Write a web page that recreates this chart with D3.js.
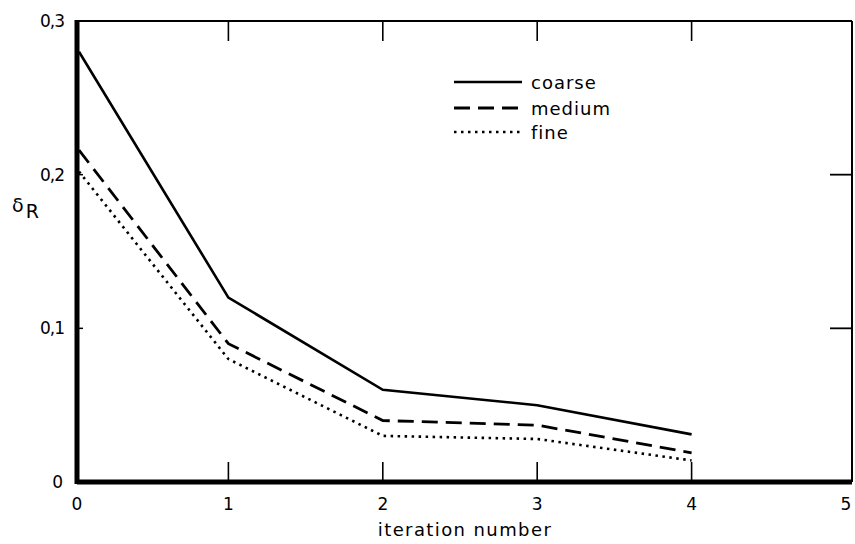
<!DOCTYPE html>
<html lang="en">
<head>
<meta charset="utf-8">
<script src="https://d3js.org/d3.v7.min.js"></script>
<style>
  body { margin: 0; background: #fff; }
  text { font-family: "DejaVu Sans", sans-serif; fill: #000; }
</style>
</head>
<body>
<script>
  var width = 855,
      height = 544;

  // data
  var iterations = [0, 1, 2, 3, 4];
  var coarse = [0.28, 0.12, 0.06, 0.05, 0.031];
  var medium = [0.216, 0.09, 0.04, 0.037, 0.019];
  var fine = [0.202, 0.08, 0.03, 0.028, 0.014];
  var xTicks = [0, 1, 2, 3, 4, 5];
  var yTicks = [0, 0.1, 0.2, 0.3];
  var yTickLabels = ['0', '0,1', '0,2', '0,3'];
  var seriesNames = ['coarse', 'medium', 'fine'];

  // frame edges (the frame runs a little past x = 5 on the right)
  var frameLeft = 77, frameRight = 852, frameTop = 21, frameBottom = 482;

  var svg = d3.select('body')
    .append('svg')
    .attr('width', width)
    .attr('height', height);

  var x = d3.scaleLinear().domain([0, 5]).range([74, 846]);
  var y = d3.scaleLinear().domain([0, 0.3]).range([frameBottom, frameTop]);

  // frame: thin top / right, heavy left / bottom
  svg.append('line').attr('x1', frameLeft).attr('x2', frameRight).attr('y1', frameTop).attr('y2', frameTop)
    .attr('stroke', '#000').attr('stroke-width', 2);
  svg.append('line').attr('x1', frameRight).attr('x2', frameRight).attr('y1', frameTop).attr('y2', frameBottom)
    .attr('stroke', '#000').attr('stroke-width', 2);

  // inward ticks
  var tickLen = 20;
  var inner = xTicks.filter(function(d) { return d > 0 && d < 5; });
  svg.selectAll('.tb').data(inner).join('line')
    .attr('x1', function(d) { return x(d); }).attr('x2', function(d) { return x(d); })
    .attr('y1', frameBottom).attr('y2', frameBottom - tickLen)
    .attr('stroke', '#000').attr('stroke-width', 1.6);
  svg.selectAll('.tt').data(inner).join('line')
    .attr('x1', function(d) { return x(d); }).attr('x2', function(d) { return x(d); })
    .attr('y1', frameTop).attr('y2', frameTop + tickLen)
    .attr('stroke', '#000').attr('stroke-width', 1.6);
  var innerY = yTicks.filter(function(d) { return d > 0 && d < 0.3; });
  svg.selectAll('.tr').data(innerY).join('line')
    .attr('x1', frameRight).attr('x2', frameRight - 22)
    .attr('y1', function(d) { return y(d); }).attr('y2', function(d) { return y(d); })
    .attr('stroke', '#000').attr('stroke-width', 1.8);
  svg.selectAll('.tl').data(innerY).join('line')
    .attr('x1', frameLeft).attr('x2', frameLeft + 6)
    .attr('y1', function(d) { return y(d); }).attr('y2', function(d) { return y(d); })
    .attr('stroke', '#000').attr('stroke-width', 1.5);

  svg.append('line').attr('x1', frameLeft).attr('x2', frameRight).attr('y1', frameBottom).attr('y2', frameBottom)
    .attr('stroke', '#000').attr('stroke-width', 5);
  svg.append('line').attr('x1', frameLeft).attr('x2', frameLeft).attr('y1', frameTop - 1).attr('y2', frameBottom + 2)
    .attr('stroke', '#000').attr('stroke-width', 5);

  // tick labels
  svg.selectAll('.xl').data(xTicks).join('text')
    .attr('x', function(d) { return d == 0 ? frameLeft : x(d); })
    .attr('y', frameBottom + 28)
    .attr('text-anchor', 'middle')
    .attr('font-size', 17)
    .text(function(d) { return d; });
  svg.selectAll('.yl').data(yTicks).join('text')
    .attr('x', function(d, i) { return i == 0 ? 62 : 64; })
    .attr('y', function(d) { return y(d) + 6; })
    .attr('text-anchor', 'end')
    .attr('font-size', 17)
    .attr('letter-spacing', -1)
    .text(function(d, i) { return yTickLabels[i]; });

  // axis titles
  svg.append('text').attr('x', 465).attr('y', 536).attr('text-anchor', 'middle')
    .attr('font-size', 18).attr('letter-spacing', 1.4).text('iteration number');
  var yt = svg.append('text').attr('x', 12).attr('y', 212).attr('font-size', 19);
  yt.append('tspan').text('δ');
  yt.append('tspan').attr('dy', 6).attr('dx', 2).text('R');

  // series
  var styles = [
    { data: coarse, dash: null, w: 2.6 },
    { data: medium, dash: '16,8', w: 2.8 },
    { data: fine, dash: '2.5,4.5', w: 2.6 }
  ];
  var line = d3.line()
    .x(function(d, i) { return Math.max(x(iterations[i]), frameLeft + 2); })
    .y(function(d) { return y(d); });

  svg.selectAll('.series').data(styles).join('path')
    .attr('d', function(s) { return line(s.data); })
    .attr('fill', 'none')
    .attr('stroke', '#000')
    .attr('stroke-width', function(s) { return s.w; })
    .attr('stroke-dasharray', function(s) { return s.dash; });

  // legend
  var legY = [82, 108, 132];
  svg.selectAll('.leg').data(styles).join('line')
    .attr('x1', 454).attr('x2', 522)
    .attr('y1', function(d, i) { return legY[i]; })
    .attr('y2', function(d, i) { return legY[i]; })
    .attr('stroke', '#000')
    .attr('stroke-width', function(s) { return s.w; })
    .attr('stroke-dasharray', function(s) { return s.dash; });
  svg.selectAll('.legt').data(seriesNames).join('text')
    .attr('x', 531)
    .attr('y', function(d, i) { return legY[i] + 7; })
    .attr('font-size', 18)
    .attr('letter-spacing', 1)
    .text(function(d) { return d; });
</script>
</body>
</html>
